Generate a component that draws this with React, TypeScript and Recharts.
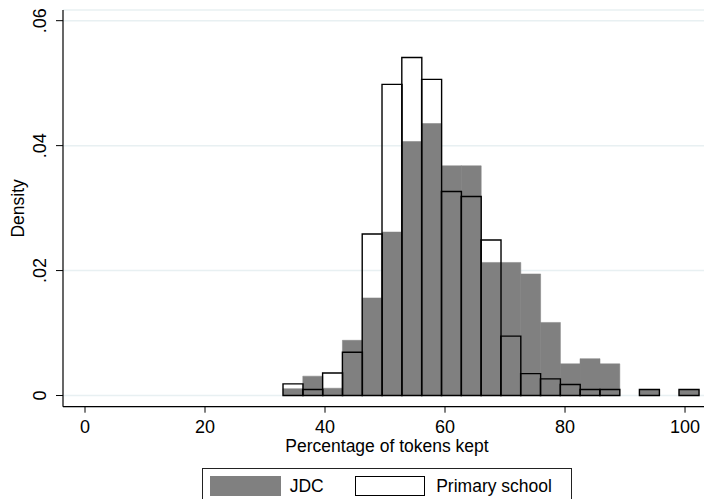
import React from 'react';
import { ComposedChart, Bar, XAxis, YAxis, CartesianGrid, Legend } from 'recharts';

// ---- data ----
const binStarts = [
  33.0, 36.3, 39.6, 42.9, 46.2, 49.5, 52.8, 56.1, 59.4, 62.7, 66.0,
  69.3, 72.6, 75.9, 79.2, 82.5, 85.8, 89.1, 92.4, 95.7, 99.0,
];
const jdcDensity = [
  0.0011, 0.0031, 0.00117, 0.00884, 0.01562, 0.02617, 0.04066, 0.04354, 0.03677, 0.03677, 0.0213,
  0.0213, 0.01946, 0.0117, 0.00507, 0.0059, 0.00507, 0, 0.00096, 0, 0.00096,
];
const primaryDensity = [
  0.00187, 0.00096, 0.0036, 0.00693, 0.02585, 0.0498, 0.0541, 0.0506, 0.03266, 0.03186, 0.0249,
  0.0095, 0.0035, 0.00267, 0.00176, 0.00096, 0.00096, 0, 0.00096, 0, 0.00096,
];
const seriesNames = ['JDC', 'Primary school'];
const xTicks = [0, 20, 40, 60, 80, 100];
const yTicks = [0, 0.02, 0.04, 0.06];
const yTickLabels = ['0', '.02', '.04', '.06'];
const xTitle = 'Percentage of tokens kept';
const yTitle = 'Density';

const BIN_WIDTH = 3.3;
const X_DOMAIN: [number, number] = [-3.667, 104.33];
const Y_DOMAIN: [number, number] = [-0.00179, 0.06171];

// ---- layout ----
const CHART_W = 712;
const CHART_H = 499;
const MARGIN = { top: 10, right: 1, bottom: 52.3, left: 0 };
const Y_AXIS_W = 63;
const X_AXIS_H = 40;
const FONT = 'Liberation Sans, Arial, Helvetica, sans-serif';
const JDC_FILL = '#808080';
const GRID = '#e8f0f2';

const plotW = CHART_W - MARGIN.left - MARGIN.right - Y_AXIS_W;
const ppu = plotW / (X_DOMAIN[1] - X_DOMAIN[0]);
const binEnd = binStarts[binStarts.length - 1] + BIN_WIDTH;
const padLeft = (binStarts[0] - X_DOMAIN[0]) * ppu;
const padRight = (X_DOMAIN[1] - binEnd) * ppu;

const data = binStarts.map((s, i) => ({
  bin: s.toFixed(1),
  mid: s + BIN_WIDTH / 2,
  jdc: jdcDensity[i],
  primary: primaryDensity[i],
}));

const XTick = (props: any) => {
  const { x, y, payload } = props;
  return (
    <text x={x} y={y} dy={18.3} textAnchor="middle" fontFamily={FONT} fontSize={18} fill="#000">
      {String(payload.value)}
    </text>
  );
};

const YTick = (props: any) => {
  const { y, payload } = props;
  const idx = yTicks.indexOf(payload.value);
  const lx = 46.5;
  return (
    <text
      x={lx}
      y={y}
      textAnchor="middle"
      transform={`rotate(-90, ${lx}, ${y})`}
      fontFamily={FONT}
      fontSize={18}
      fill="#000"
    >
      {idx >= 0 ? yTickLabels[idx] : String(payload.value)}
    </text>
  );
};

const YTitle = (props: any) => {
  const vb = props.viewBox || { x: 0, y: MARGIN.top, width: Y_AXIS_W, height: 396.7 };
  const cx = vb.x + 24;
  const cy = vb.y + vb.height / 2;
  return (
    <text
      x={cx}
      y={cy}
      textAnchor="middle"
      transform={`rotate(-90, ${cx}, ${cy})`}
      fontFamily={FONT}
      fontSize={17.5}
      fill="#000"
    >
      {yTitle}
    </text>
  );
};

const XTitle = (props: any) => {
  const vb = props.viewBox || { x: Y_AXIS_W, y: 406.7, width: plotW, height: X_AXIS_H };
  return (
    <text
      x={vb.x + vb.width / 2}
      y={vb.y + 45.6}
      textAnchor="middle"
      fontFamily={FONT}
      fontSize={17.5}
      fill="#000"
    >
      {xTitle}
    </text>
  );
};

const LegendBox = () => (
  <div
    style={{
      position: 'relative',
      width: 370.6,
      height: 40,
      boxSizing: 'border-box',
      border: '1px solid #222',
      background: '#fff',
      fontFamily: FONT,
      fontSize: 17.5,
      color: '#000',
    }}
  >
    <div style={{ position: 'absolute', left: 7, top: 7, width: 71.4, height: 20, background: JDC_FILL }} />
    <div style={{ position: 'absolute', left: 87, top: 7, lineHeight: '20px' }}>{seriesNames[0]}</div>
    <div
      style={{
        position: 'absolute',
        left: 152.5,
        top: 7,
        width: 70.3,
        height: 20,
        boxSizing: 'border-box',
        border: '1.3px solid #000',
        background: '#fff',
      }}
    />
    <div style={{ position: 'absolute', left: 233.5, top: 7, lineHeight: '20px' }}>{seriesNames[1]}</div>
  </div>
);

export default function App() {
  return (
    <div
      style={{
        position: 'absolute',
        left: 0,
        top: 0,
        width: 704,
        height: 499,
        overflow: 'hidden',
        background: '#fff',
      }}
    >
      <ComposedChart
        width={CHART_W}
        height={CHART_H}
        data={data}
        margin={MARGIN}
        barCategoryGap={0}
        barGap={0}
      >
        <CartesianGrid horizontal vertical={false} stroke={GRID} strokeWidth={1.5} />
        <XAxis
          type="number"
          dataKey="mid"
          domain={X_DOMAIN}
          allowDataOverflow
          ticks={xTicks}
          interval={0}
          height={X_AXIS_H}
          tickSize={6}
          tickLine={{ stroke: '#000', strokeWidth: 1 }}
          axisLine={{ stroke: '#000', strokeWidth: 1.2 }}
          tick={<XTick />}
          label={<XTitle />}
        />
        <XAxis xAxisId="jdcBins" type="category" dataKey="bin" hide padding={{ left: padLeft, right: padRight }} />
        <XAxis xAxisId="psBins" type="category" dataKey="bin" hide padding={{ left: padLeft, right: padRight }} />
        <YAxis
          type="number"
          domain={Y_DOMAIN}
          allowDataOverflow
          ticks={yTicks}
          interval={0}
          width={Y_AXIS_W}
          tickSize={7}
          tickLine={{ stroke: '#000', strokeWidth: 1 }}
          axisLine={{ stroke: '#000', strokeWidth: 1.2 }}
          tick={<YTick />}
          label={<YTitle />}
        />
        <Bar
          xAxisId="jdcBins"
          dataKey="jdc"
          name={seriesNames[0]}
          fill={JDC_FILL}
          stroke={JDC_FILL}
          strokeWidth={0.5}
          isAnimationActive={false}
        />
        <Bar
          xAxisId="psBins"
          dataKey="primary"
          name={seriesNames[1]}
          fill="none"
          stroke="#000"
          strokeWidth={1.4}
          isAnimationActive={false}
        />
        <Legend
          layout="horizontal"
          verticalAlign="middle"
          align="center"
          wrapperStyle={{ left: 201.7, top: 467.7, width: 370.6, height: 40 }}
          content={<LegendBox />}
        />
      </ComposedChart>
    </div>
  );
}
